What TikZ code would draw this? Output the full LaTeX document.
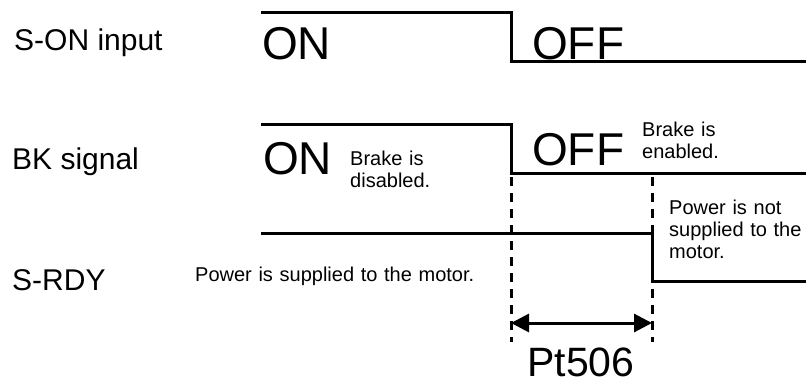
\documentclass[tikz,border=0pt]{standalone}
\usepackage{fontspec}
\setmainfont{Liberation Sans}
\usetikzlibrary{arrows.meta}

\begin{document}
\begin{tikzpicture}[
  x=1pt, y=-1pt,
  wave/.style={line width=3pt, line join=miter},
  guide/.style={line width=3pt, dash pattern=on 9pt off 7pt},
  sigLbl/.style={anchor=base west, inner sep=0pt, font=\fontsize{30}{36}\selectfont},
  state/.style={anchor=base west, inner sep=0pt, font=\fontsize{46}{50}\selectfont},
  note/.style={anchor=base west, inner sep=0pt, align=left, text width=160pt, font=\fontsize{20}{22}\selectfont},
  span/.style={{Triangle[length=18pt,width=18pt]}-{Triangle[length=18pt,width=18pt]}, line width=3pt},
]
\useasboundingbox (0,0) rectangle (806,385);

% =========================== SIGNAL NAMES ===========================
\node[sigLbl] (lblSon) at (14,51)  {S-ON input};
\node[sigLbl] (lblBk)  at (12,170) {BK signal};
\node[sigLbl] (lblRdy) at (12,290) {S-RDY};

% =========================== TIME MARKS ===========================
\coordinate (tOffTop) at (511,177);
\coordinate (tOffBot) at (511,342);
\coordinate (tRdyTop) at (652,177);
\coordinate (tRdyBot) at (652,342);

% =========================== S-ON INPUT ===========================
\draw[wave] (261,13) -- (511,13) -- (511,62) -- (806,62);
\node[state] (sonOn)  at (262,60) {ON};
\node[state] (sonOff) at (532,60) {OFF};

% =========================== BK SIGNAL ===========================
\draw[wave] (261,125) -- (511,125) -- (511,174) -- (806,174);
\node[state] (bkOn)  at (263,175) {ON};
\node[state] (bkOff) at (532,165) {OFF};
\node[note] (bkOnNote)  at (350,165) {Brake is\\disabled.};
\node[note] (bkOffNote) at (642,137) {Brake is\\enabled.};

% =========================== S-RDY ===========================
\draw[wave] (261,233) -- (652,233) -- (652,281) -- (806,281);
\node[note, text width=300pt] (rdyOn) at (195,281) {Power is supplied to the motor.};
\node[note] (rdyOff) at (669,214) {Power is not\\supplied to the\\motor.};

% =========================== DELAY Pt506 ===========================
\draw[guide] (tOffTop) -- (tOffBot);
\draw[guide] (tRdyTop) -- (tRdyBot);
\coordinate (spanL) at (511,323);
\coordinate (spanR) at (652,323);
\draw[span] (spanL) -- (spanR);
\node[anchor=base, inner sep=0pt, font=\fontsize{41}{45}\selectfont] (delay) at (581,376) {Pt506};

\end{tikzpicture}
\end{document}
